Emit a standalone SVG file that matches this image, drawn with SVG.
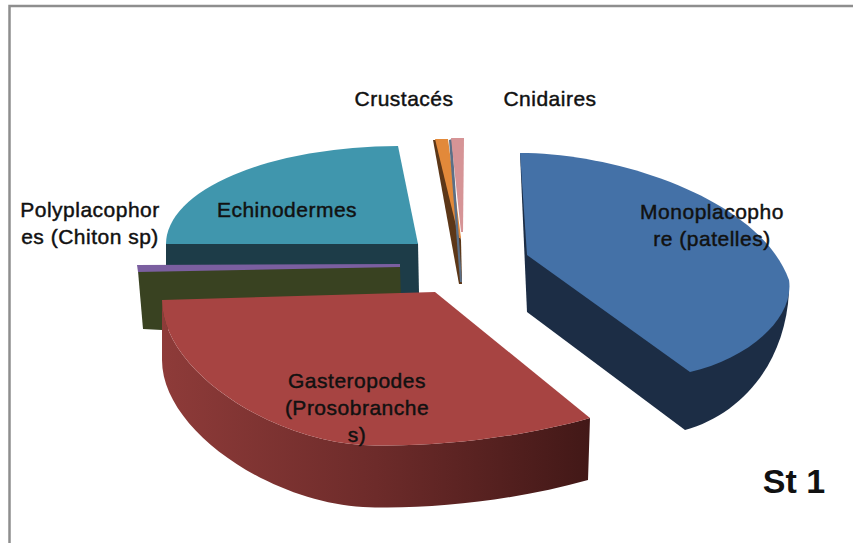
<svg xmlns="http://www.w3.org/2000/svg" width="853" height="543" viewBox="0 0 853 543">
<defs>
<linearGradient id="redSide" gradientUnits="userSpaceOnUse" x1="162" y1="0" x2="590" y2="0">
<stop offset="0" stop-color="#8E3B39"/>
<stop offset="0.5" stop-color="#6D2B2A"/>
<stop offset="1" stop-color="#421817"/>
</linearGradient>
<style>
.lbl{font-family:"Liberation Sans",Arial,sans-serif;font-size:21px;letter-spacing:0.5px;fill:#111;stroke:#111;stroke-width:0.45px;text-anchor:middle}
.title{font-family:"Liberation Sans",Arial,sans-serif;font-size:34px;font-weight:bold;fill:#111;text-anchor:middle}
</style>
</defs>
<rect x="0" y="0" width="853" height="543" fill="#ffffff"/>
<path d="M9.5,543 L9.5,6 L853,6" fill="none" stroke="#8E8E8E" stroke-width="2.5"/>

<g id="echinodermes">
<polygon points="166,243 418,243 419,293 166,293" fill="#1D3C48"/>
<path d="M166,244 A232,98 0 0 1 398,146 L418,244 Z" fill="#4096AD"/>
<text class="lbl" x="287" y="217">Echinodermes</text>
</g>

<g id="polyplacophores">
<polygon points="138,271 400,266 401,300 162,330 143,329" fill="#394221"/>
<polygon points="137,265 400,264 400,267 138,272" fill="#7B5FA0"/>
<text class="lbl" x="90" y="217">Polyplacophor</text>
<text class="lbl" x="90" y="244">es (Chiton sp)</text>
</g>

<g id="gasteropodes">
<path d="M162,300 C162,370 270,440 363,445 C430,448 520,438 590,418 L588,480 C518,500 430,510 363,507 C270,502 162,430 162,360 Z" fill="url(#redSide)"/>
<path d="M162,300 L435,292 L590,418 C520,438 430,448 363,445 C270,440 162,370 162,300 Z" fill="#A74442"/>
<text class="lbl" x="357" y="388">Gasteropodes</text>
<text class="lbl" x="357" y="415">(Prosobranche</text>
<text class="lbl" x="357" y="442">s)</text>
</g>

<g id="monoplacophore">
<path d="M520,153 L527,312 L685,430 C740,415 785,365 789,292 L787,282 Z" fill="#1C2D45"/>
<path d="M520,153 C620,153 760,200 789,280 C795,320 745,360 690,372 L527,255 Z" fill="#4471A7"/>
<text class="lbl" x="712" y="219">Monoplacopho</text>
<text class="lbl" x="712" y="246">re (patelles)</text>
</g>

<g id="crustaces">
<polygon points="433,140 438,140 461,240 462,284 459,284" fill="#5C3718"/>
<polygon points="435,139 448,139 461,238 459,238" fill="#E2893A"/>
<text class="lbl" x="404" y="106">Crustacés</text>
</g>

<g id="autre">
<polygon points="449,140 452,139 462,282 460,282" fill="#5B6F86"/>
</g>

<g id="cnidaires">
<polygon points="451,138 464,138 463,232 461,232" fill="#D69496"/>
<text class="lbl" x="550" y="106">Cnidaires</text>
</g>

<g id="connectors"></g>

<text class="title" x="794" y="493">St 1</text>
</svg>
